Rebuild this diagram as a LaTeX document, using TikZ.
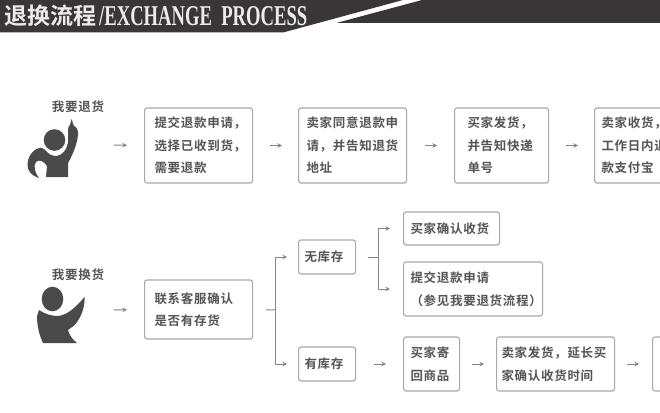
\documentclass[tikz,border=0pt]{standalone}
\usepackage{fontspec}
\usetikzlibrary{arrows.meta}
\newfontfamily\cjk[LetterSpace=5.6]{Noto Sans CJK SC Bold}
\newfontfamily\cjktitle[LetterSpace=1]{Noto Sans CJK SC Bold}
\newfontfamily\latintitle{Liberation Serif}
\definecolor{band}{HTML}{3A3638}
\definecolor{ink}{HTML}{555555}
\definecolor{edge}{HTML}{A8A8A8}
\definecolor{conn}{HTML}{858585}
\definecolor{icon}{HTML}{4A4A4A}
\tikzset{
  flowbox/.style={draw=edge,line width=1.1pt,rounded corners=2.5pt,fill=white,inner xsep=0pt,inner ysep=0pt,
    align=left,text=ink,font=\cjk\fontsize{12.5}{22.5}\selectfont,anchor=west},
  persontext/.style={text=ink,font=\cjk\fontsize{12.5}{14}\selectfont,inner sep=0pt},
  flowline/.style={draw=conn,line width=1pt},
  flowarrow/.style={flowline,-{Stealth[length=4.5pt,width=4.5pt]}}
}
\begin{document}
\begin{tikzpicture}[x=1pt,y=-1pt]
\useasboundingbox (0,0) rectangle (660,412);
\fill[white] (0,0) rectangle (660,412);
% header
\fill[band] (0,0) -- (403,0) -- (283,32.5) -- (0,32.5) -- cycle;
\fill[band] (337,22.8) -- (422,0) -- (660,0) -- (660,22.8) -- cycle;
\node[anchor=west,inner sep=0pt,text=white!92!black] (title1) at (4,16) {\cjktitle\fontsize{23}{23}\selectfont 退换流程};
\node[anchor=west,inner sep=0pt,text=white!92!black] (title2) at (99,16) {\resizebox{208pt}{19pt}{\latintitle\bfseries /EXCHANGE\ \ PROCESS}};
% people
\fill[icon] (71.7,119) .. controls (72.5,122) and (73,124) .. (74,126)
  .. controls (77,127) and (78.5,131) .. (78,135)
  .. controls (77,145) and (72,156) .. (68,163) -- (68,177) -- (46,177) -- (47,166)
  .. controls (44,161) and (39,159) .. (36,162) .. controls (33,166) and (35,173) .. (39,178)
  .. controls (32,176) and (27,171) .. (27.5,164) .. controls (28,154) and (36,147) .. (42,148)
  .. controls (46,149) and (48,156) .. (55,156) .. controls (63,156) and (68,148) .. (68,140)
  -- (68,130) .. controls (68,127) and (69,126) .. (70,125) -- cycle;
\fill[white] (54.5,140) circle (13);
\fill[icon] (54.5,140) circle (10.8);
\fill[icon] (39,310) .. controls (45,314) and (51,316) .. (58,316) .. controls (68,315) and (77,306) .. (84.5,297)
  .. controls (85,306) and (82,315) .. (77,322) .. controls (74,326) and (71,328) .. (68,330)
  .. controls (69,335) and (73,340) .. (77,343) -- (43,343)
  .. controls (40,337) and (37,327) .. (37,316) -- cycle;
\fill[white] (52.5,299) ellipse (13 and 14.5);
\fill[icon] (52.5,299) ellipse (10.8 and 12.3);
\node[persontext] (ask1) at (78,107) {我要退货};
\node[persontext] (ask2) at (78,275) {我要换货};
\coordinate (p1) at (114,145);
\coordinate (p2) at (114,310);
% boxes row 1
\node[flowbox,minimum width=108pt,minimum height=75pt,text width=88pt] (b1) at (144,145.5) {提交退款申请，\\选择已收到货，\\需要退款};
\node[flowbox,minimum width=108pt,minimum height=75pt,text width=92pt] (b2) at (298,145.5) {卖家同意退款申\\请，并告知退货\\地址};
\node[flowbox,minimum width=94pt,minimum height=75pt,text width=68pt] (b3) at (454,145.5) {买家发货，\\并告知快递\\单号};
\node[flowbox,minimum width=100pt,minimum height=75pt,text width=86pt] (b4) at (594,145.5) {卖家收货，\\工作日内退\\款支付宝};
% boxes row 2
\node[flowbox,minimum width=108pt,minimum height=59pt,text width=88pt] (b5) at (144,309.5) {联系客服确认\\是否有存货};
\node[flowbox,minimum width=57pt,minimum height=34pt,text width=45pt] (none) at (298,257) {无库存};
\node[flowbox,minimum width=57pt,minimum height=34pt,text width=45pt] (have) at (298,364) {有库存};
\node[flowbox,minimum width=96pt,minimum height=33pt,text width=82pt] (confirm) at (403,228.5) {买家确认收货};
\node[flowbox,minimum width=139pt,minimum height=54pt,text width=125pt] (refund) at (403,289) {提交退款申请\\（参见我要退货流程）};
\node[flowbox,minimum width=56pt,minimum height=54pt,text width=42pt] (back) at (403,364) {买家寄\\回商品};
\node[flowbox,minimum width=118pt,minimum height=54pt,text width=108pt] (ship) at (496,364) {卖家发货，延长买\\家确认收货时间};
\node[flowbox,minimum width=30pt,minimum height=54pt] (last) at (652,364) {};
% connectors row 1
\draw[flowarrow,shorten >=17pt] (p1) -- (b1.west);
\draw[flowarrow,shorten <=17pt,shorten >=16pt] (b1.east) -- (b2.west);
\draw[flowarrow,shorten <=18pt,shorten >=17pt] (b2.east) -- (b3.west);
\draw[flowarrow,shorten <=17pt,shorten >=16pt] (b3.east) -- (b4.west);
% connectors row 2
\draw[flowarrow,shorten >=17pt] (p2) -- (b5.west);
\coordinate (j1) at (275,310);
\coordinate (j2) at (378,257);
\draw[flowline,shorten <=13pt] (b5.east) -- (j1);
\draw[flowarrow,shorten >=11pt] (j1) |- (none.west);
\draw[flowarrow,shorten >=11pt] (j1) |- (have.west);
\draw[flowline,shorten <=12pt] (none.east) -- (j2);
\draw[flowarrow,shorten >=13pt] (j2) |- (confirm.west);
\draw[flowarrow,shorten >=13pt] (j2) |- (refund.west);
\draw[flowarrow,shorten <=18pt,shorten >=17pt] (have.east) -- (back.west);
\draw[flowarrow,shorten <=12pt,shorten >=12pt] (back.east) -- (ship.west);
\draw[flowarrow,shorten <=12pt,shorten >=13pt] (ship.east) -- (last.west);
\end{tikzpicture}
\end{document}
